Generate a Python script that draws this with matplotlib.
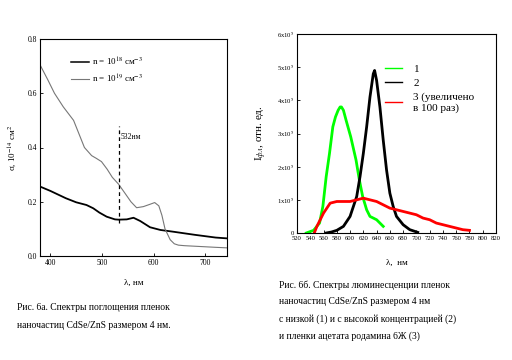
import matplotlib
matplotlib.use("Agg")
import matplotlib.pyplot as plt

plt.rcParams['font.family'] = ['Liberation Serif', 'DejaVu Serif']
plt.rcParams['mathtext.fontset'] = 'stix'

# ---------- data: absorption (left) ----------
abs_wl_lo = [380, 400, 430, 450, 470, 483, 495, 509, 525, 532, 548, 561, 574,
             593, 613, 640, 658, 680, 700, 720, 742]
abs_lo = [0.256, 0.24, 0.213, 0.198, 0.188, 0.176, 0.16, 0.145, 0.135, 0.134,
          0.135, 0.141, 0.129, 0.106, 0.096, 0.089, 0.084, 0.078, 0.073, 0.068, 0.065]

abs_wl_hi = [380, 395, 408, 425, 445, 466, 480, 489, 499, 510, 520, 532, 545,
             556, 567, 580, 592, 602, 610, 616, 622, 632, 640, 648, 660, 680, 700, 720, 742]
abs_hi = [0.705, 0.65, 0.6, 0.55, 0.5, 0.4, 0.37, 0.36, 0.348, 0.32, 0.29, 0.265,
          0.23, 0.2, 0.178, 0.182, 0.19, 0.197, 0.185, 0.15, 0.1, 0.06, 0.045,
          0.04, 0.038, 0.036, 0.034, 0.032, 0.03]

# ---------- data: luminescence (right), units of 1e5 ----------
g_wl = [534, 545, 554, 559, 564, 569, 574, 578, 582, 585, 587, 590, 594, 601,
        609, 614, 619, 625, 630, 640, 650]
g_val = [0.0, 0.08, 0.3, 0.8, 1.7, 2.4, 3.2, 3.5, 3.7, 3.8, 3.8, 3.7, 3.4, 2.9,
         2.2, 1.6, 1.1, 0.7, 0.5, 0.4, 0.2]

k_wl = [564, 572, 580, 590, 600, 610, 615, 620, 625, 630, 635, 637, 640, 645,
        650, 655, 660, 665, 670, 680, 690, 702]
k_val = [0.0, 0.03, 0.08, 0.2, 0.5, 1.1, 1.7, 2.4, 3.2, 4.1, 4.8, 4.9, 4.6, 3.8,
         2.8, 1.9, 1.2, 0.8, 0.5, 0.25, 0.1, 0.02]

r_wl = [546, 550, 555, 560, 565, 570, 580, 590, 600, 610, 620, 630, 640, 650,
        660, 670, 680, 690, 700, 710, 720, 730, 740, 750, 760, 770, 780]
r_val = [0.0, 0.2, 0.4, 0.6, 0.75, 0.9, 0.95, 0.95, 0.95, 1.0, 1.05, 1.0, 0.95,
         0.85, 0.75, 0.7, 0.65, 0.6, 0.55, 0.45, 0.4, 0.3, 0.25, 0.2, 0.15, 0.1, 0.08]

lum_yticks = [0, 1, 2, 3, 4, 5, 6]
lum_ylabels = ['0'] + [r'%dx10$^5$' % v for v in lum_yticks[1:]]

W, H = 512, 360
fig = plt.figure(figsize=(W / 100, H / 100), dpi=100)

def px_axes(l, t, r, b):
    return fig.add_axes([l / W, 1 - b / H, (r - l) / W, (b - t) / H])

# ---------- left panel ----------
ax1 = px_axes(40, 39, 227, 256)
ax1.plot(abs_wl_lo, abs_lo, color='black', lw=1.3)
ax1.plot(abs_wl_hi, abs_hi, color='#777777', lw=0.8)
ax1.plot([532, 532], [0.12, 0.48], color='black', lw=0.9, ls=(0, (3, 2.5)))
ax1.text(536, 0.44, '532нм', fontsize=5.5, va='center')
ax1.set_xlim(380, 742)
ax1.set_ylim(0, 0.8)
ax1.set_xticks([400, 500, 600, 700])
ax1.set_yticks([0.0, 0.2, 0.4, 0.6, 0.8])
ax1.set_yticklabels(['0.0', '0.2', '0.4', '0.6', '0.8'])
ax1.tick_params(labelsize=5.5, direction='in', length=2.5, width=0.6, pad=2)
ax1.set_ylabel('σ, 10$^{-14}$ см$^2$', fontsize=6.5, labelpad=6)
ax1.set_xlabel('λ, нм', fontsize=6.5, labelpad=9)
ax1.plot([], [], color='black', lw=1.1, label='n = 10$^{18}$ см$^{-3}$')
ax1.plot([], [], color='#777777', lw=0.8, label='n = 10$^{19}$ см$^{-3}$')
ax1.legend(loc='upper left', bbox_to_anchor=(0.12, 0.96), frameon=False,
           fontsize=6.5, handlelength=2.0, handletextpad=0.4, labelspacing=0.5)
for s in ax1.spines.values():
    s.set_linewidth(0.8)

# ---------- right panel ----------
ax2 = px_axes(297, 34, 496, 233)
ax2.plot(g_wl, g_val, color='#00ff00', lw=2.0, label='1')
ax2.plot(k_wl, k_val, color='black', lw=2.0, label='2')
ax2.plot(r_wl, r_val, color='#ff0000', lw=2.0, label='3 (увеличено\nв 100 раз)')
ax2.set_xlim(520, 820)
ax2.set_ylim(0, 6)
ax2.set_xticks(range(520, 821, 20))
ax2.set_yticks(lum_yticks)
ax2.set_yticklabels(lum_ylabels)
ax2.tick_params(labelsize=4.8, direction='in', length=2.5, width=0.6, pad=2)
ax2.set_ylabel('I$_{фл}$, отн. ед.', fontsize=8, labelpad=6)
ax2.set_xlabel('λ,  нм', fontsize=6.5, labelpad=13)
leg = ax2.legend(loc='upper left', bbox_to_anchor=(0.39, 0.9), frameon=False,
                 fontsize=8, handlelength=1.6, handletextpad=1.0, labelspacing=0.4)
for ln in leg.get_lines():
    ln.set_linewidth(1.0)
for s in ax2.spines.values():
    s.set_linewidth(0.8)

# ---------- captions ----------
cap_l = ['Рис. 6а. Спектры поглощения пленок',
         'наночастиц CdSe/ZnS размером 4 нм.']
cap_r = ['Рис. 6б. Спектры люминесценции пленок',
         'наночастиц CdSe/ZnS размером 4 нм',
         'с низкой (1) и с высокой концентрацией (2)',
         'и пленки ацетата родамина 6Ж (3)']
for i, line in enumerate(cap_l):
    fig.text(17 / W, 1 - (307 + 18 * i) / H, line, fontsize=6.9, va='center')
for i, line in enumerate(cap_r):
    fig.text(279 / W, 1 - (285 + 17 * i) / H, line, fontsize=6.9, va='center')

fig.savefig('out.png', dpi=100)
